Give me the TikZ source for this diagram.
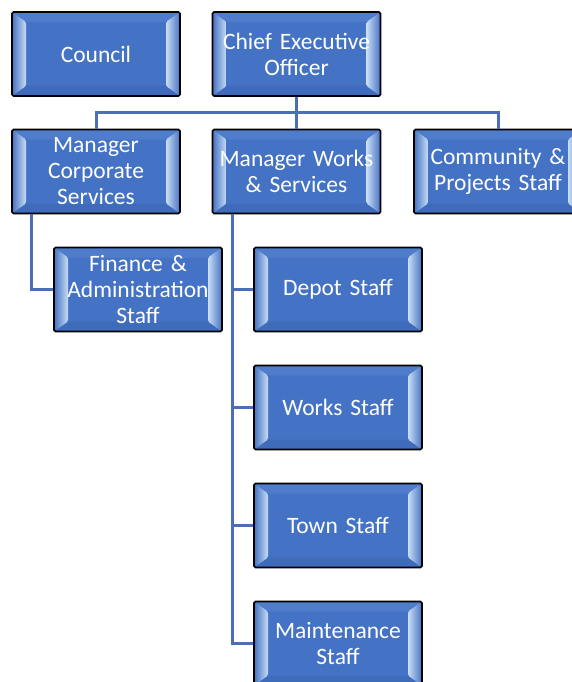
\documentclass[tikz,border=0pt]{standalone}
\usepackage{fontspec}
\setmainfont{Carlito}
\definecolor{boxblue}{HTML}{4472C4}
\definecolor{bevlight}{HTML}{C9DDF5}
\definecolor{bevtop}{HTML}{4F7CCB}
\definecolor{bevbot}{HTML}{3F6BBB}
\definecolor{linkblue}{HTML}{4A6FB8}
\tikzset{
  orgbox/.style={draw=black, line width=1.6pt, rounded corners=1.5pt, fill=boxblue,
    minimum width=168pt, minimum height=84pt, text width=166pt, align=center,
    inner sep=0pt, text=white, font=\fontsize{23.5}{26}\selectfont,
    path picture={
      \coordinate (sw) at (path picture bounding box.south west);
      \coordinate (ne) at (path picture bounding box.north east);
      \coordinate (nw) at (sw|-ne);
      \coordinate (se) at (ne|-sw);
      \fill[bevtop] (nw) -- (ne) -- ([shift={(-14pt,-10pt)}]ne) -- ([shift={(14pt,-10pt)}]nw) -- cycle;
      \fill[bevbot] (sw) -- (se) -- ([shift={(-14pt,10pt)}]se) -- ([shift={(14pt,10pt)}]sw) -- cycle;
      \shade[left color=boxblue, right color=bevlight] (sw) -- (nw) -- ([shift={(14pt,-10pt)}]nw) -- ([shift={(14pt,10pt)}]sw) -- cycle;
      \shade[left color=bevlight, right color=boxblue] (se) -- (ne) -- ([shift={(-14pt,-10pt)}]ne) -- ([shift={(-14pt,10pt)}]se) -- cycle;
    }},
  link/.style={draw=linkblue, line width=3pt}
}
\begin{document}
\begin{tikzpicture}[x=1pt,y=-1pt]
\useasboundingbox (0,0) rectangle (572,682);
% boxes
\node[orgbox] (council) at (96,54) {Council};
\node[orgbox] (ceo) at (296.5,54) {Chief Executive\\Officer};
\node[orgbox] (mcs) at (96,171.5) {Manager\\Corporate\\Services};
\node[orgbox] (mws) at (296.5,171.5) {Manager Works\\\& Services};
\node[orgbox] (cps) at (498,171.5) {Community \&\\Projects Staff};
\node[orgbox] (fas) at (138,289.5) {Finance \&\\Administration\\Staff};
\node[orgbox] (depot) at (338,289.5) {Depot Staff};
\node[orgbox] (works) at (338,407.5) {Works Staff};
\node[orgbox] (town) at (338,525.5) {Town Staff};
\node[orgbox] (maint) at (338,643.5) {Maintenance\\Staff};
% connectors
\coordinate (bus) at (296.5,113);
\coordinate (ltrunk) at ([xshift=-65pt]mcs.south);
\coordinate (rtrunk) at ([xshift=-64.5pt]mws.south);
\draw[link] (ceo.south) -- (bus);
\draw[link] (mcs.north) -- (mcs.north|-bus) -- (cps.north|-bus) -- (cps.north);
\draw[link] (bus) -- (mws.north);
\draw[link] (ltrunk) |- (fas.west);
\draw[link] (rtrunk) |- (maint.west);
\draw[link] (rtrunk|-depot.west) -- (depot.west);
\draw[link] (rtrunk|-works.west) -- (works.west);
\draw[link] (rtrunk|-town.west) -- (town.west);
\end{tikzpicture}
\end{document}
